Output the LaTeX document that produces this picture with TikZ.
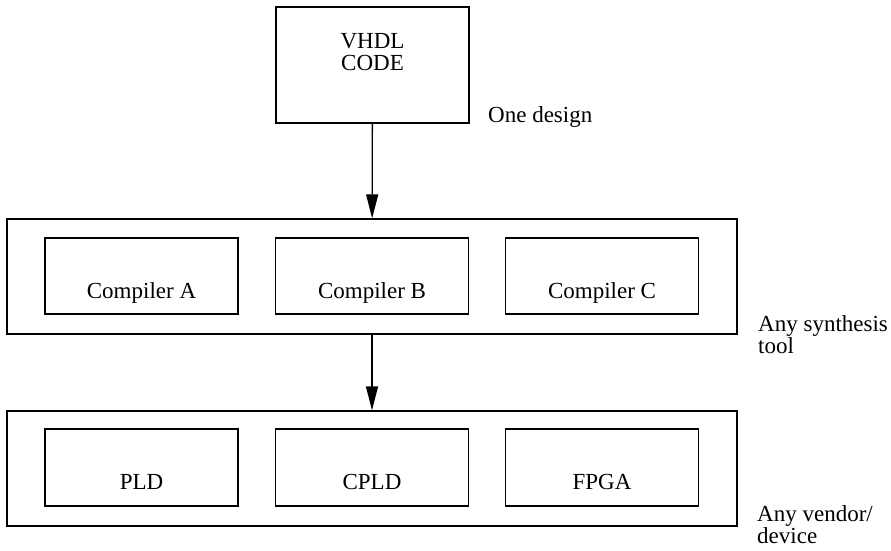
\documentclass[tikz,border=0pt]{standalone}
\usepackage{fontspec}
\setmainfont{Liberation Serif}
\usetikzlibrary{arrows.meta}

\tikzset{
  box/.style={draw,line width=1.3pt,rectangle,inner sep=0pt},
  flow/.style={-{Triangle[length=24pt,width=12pt]},line width=1.3pt},
  note/.style={anchor=base west,align=left,inner sep=0pt}
}

\begin{document}
\begin{tikzpicture}[x=1pt,y=-1pt,font=\fontsize{23}{22}\selectfont]
\def \W {193pt}
\useasboundingbox (0,0) rectangle (891,551);

% the design
\node[box,minimum width=\W,minimum height=116pt,
  label={[anchor=base,align=center,yshift=13pt]center:VHDL\\CODE}] (code) at (372.5,65) {};
\node[note] (onedesign) at (488,122) {One design};

% synthesis tools
\node[box,minimum width=730pt,minimum height=115pt] (tools) at (372,276.5) {};
\foreach \x/\n/\t in {141.5/a/Compiler A,372/b/Compiler B,602/c/Compiler C}
{
\node[box,minimum width=\W,minimum height=76pt,
  label={[anchor=base,yshift=-17pt]center:\t}] (comp\n) at (\x,276) {};
}
\node[note] (synth) at (758,353) {Any synthesis\\tool};

% target devices
\node[box,minimum width=730pt,minimum height=115pt] (devices) at (372,468.5) {};
\foreach \x/\n/\t in {141.5/a/PLD,372/b/CPLD,602/c/FPGA}
{
\node[box,minimum width=\W,minimum height=77pt,
  label={[anchor=base,yshift=-14pt]center:\t}] (dev\n) at (\x,467.5) {};
}
\node[note] (vendor) at (757,543) {Any vendor/\\device};

% flow
\draw[flow] (code) -- (tools);
\draw[flow] (tools) -- (devices);

\end{tikzpicture}
\end{document}
